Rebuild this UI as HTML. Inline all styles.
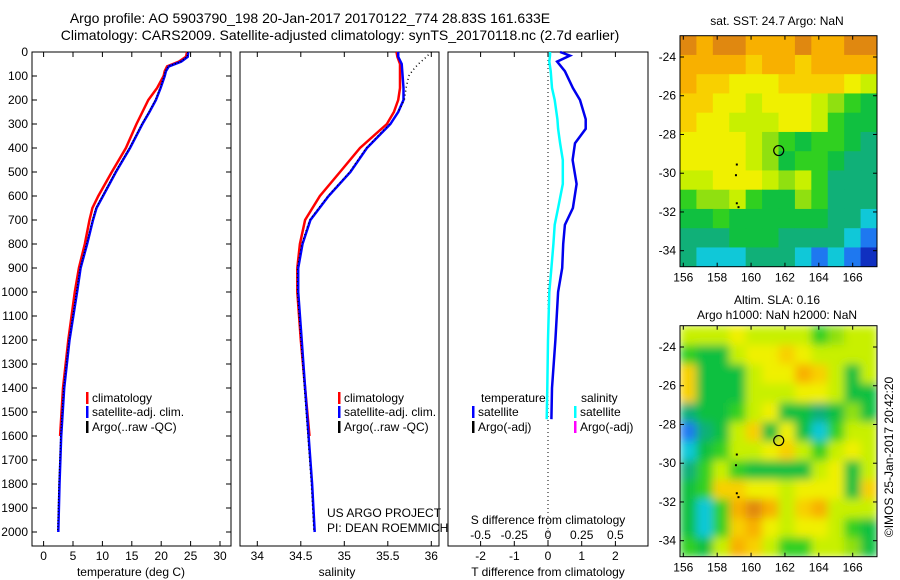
<!DOCTYPE html>
<html><head><meta charset="utf-8"><style>
html,body{margin:0;padding:0;background:#fff;}
svg{display:block;font-family:"Liberation Sans",sans-serif;}
</style></head><body>
<svg id="c" width="900" height="580" viewBox="0 0 900 580" xmlns="http://www.w3.org/2000/svg">
<defs>
<clipPath id="clipSst"><rect x="680" y="35.7" width="197" height="231"/></clipPath>
<clipPath id="clipSla"><rect x="680" y="325.7" width="197" height="231"/></clipPath>
<filter id="blur" x="0" y="0" width="1" height="1"><feGaussianBlur stdDeviation="4.5" edgeMode="duplicate"/></filter>
</defs>
<text x="310" y="23" font-size="14" text-anchor="middle">Argo profile: AO 5903790_198 20-Jan-2017 20170122_774 28.83S 161.633E</text>
<text x="340" y="40" font-size="14" text-anchor="middle">Climatology: CARS2009. Satellite-adjusted climatology: synTS_20170118.nc (2.7d earlier)</text>
<g id="g"></g>
</svg>
<script>
// ---------- data ----------
const depthT = [0,20,40,60,80,100,150,200,250,300,400,500,600,650,700,800,900,1000,1200,1400,1600,1800,2000];
const tempClim = [24.4,24.2,23.0,21.0,20.6,20.4,19.3,17.8,16.8,15.8,14.0,11.6,9.3,8.3,7.8,7.0,6.0,5.3,4.2,3.3,2.8];
const tempSat  = [24.6,24.5,23.4,21.3,20.8,20.6,19.9,19.1,18.0,16.8,14.7,12.3,10.1,9.0,8.4,7.4,6.3,5.7,4.4,3.5,3.0,2.7,2.5];
const depthS = [0,20,50,100,150,200,250,300,400,500,600,700,800,900,1000,1200,1400,1600,1800,2000];
const salClim = [35.60,35.61,35.64,35.64,35.64,35.62,35.57,35.49,35.18,34.95,34.72,34.55,34.49,34.46,34.46,34.50,34.55,34.60];
const salSat  = [35.62,35.62,35.66,35.67,35.68,35.68,35.62,35.53,35.26,35.07,34.82,34.61,34.52,34.47,34.47,34.51,34.55,34.59,34.63,34.66];
const depthArgoS = [0,25,50,75,100,150,200,250];
const salArgo = [36.0,35.93,35.85,35.79,35.74,35.71,35.69,35.62];
const depthD = [0,15,40,80,150,200,280,320,380,450,550,650,720,800,900,1000,1200,1400,1530];
const tDiff = [0.36,0.65,0.27,0.5,0.74,0.95,1.12,1.12,0.8,0.73,0.85,0.74,0.5,0.45,0.42,0.3,0.22,0.12,0.1];
const sDiff = [0.015,0.015,0.01,0.02,0.03,0.05,0.07,0.075,0.09,0.11,0.11,0.075,0.05,0.04,0.025,0.01,0.0,-0.005,-0.01];
const depthTicks = [0,100,200,300,400,500,600,700,800,900,1000,1100,1200,1300,1400,1500,1600,1700,1800,1900,2000];
const tempTicks = [0,5,10,15,20,25,30];
const salTicks = [34,34.5,35,35.5,36];
const tdTicks = [-2,-1,0,1,2];
const sdTicks = [-0.5,-0.25,0,0.25,0.5];
const lonTicks = [156,158,160,162,164,166];
const latTicks = [-24,-26,-28,-30,-32,-34];
const sstGrid = [
[11,10,11,11,10,10,10,11,10,10,11,11],
[10,10,10,10,9,10,10,9,10,10,10,10],
[10,9,9,8,8,8,9,9,9,9,8,7],
[9,9,8,8,7,8,8,8,7,6,5,4],
[9,8,8,7,7,7,8,8,7,5,4,4],
[8,8,8,8,7,6,5,4,5,5,4,3],
[8,8,8,8,7,6,4,5,5,4,3,3],
[7,7,8,8,8,7,6,7,5,3,3,3],
[5,6,6,7,5,4,4,6,5,3,3,3],
[4,4,5,4,4,4,4,4,4,3,3,2],
[3,3,3,4,4,4,3,3,3,3,2,1],
[3,2,2,2,3,3,3,2,1,2,1,0]];
const slaGrid = [
[7,7,7,8,7,7,7,7,5,6,7,7],
[5,4,4,7,8,8,9,8,7,7,7,7],
[9,4,4,4,7,8,8,10,9,7,4,7],
[9,4,4,4,7,7,7,8,8,7,4,4],
[3,4,4,5,7,8,4,4,3,4,6,4],
[1,3,4,7,9,4,8,4,2,5,7,7],
[2,4,5,7,7,8,9,7,5,7,8,7],
[3,5,7,5,4,4,4,4,7,8,4,7],
[4,5,9,9,8,8,7,8,8,8,4,9],
[4,2,5,10,11,10,7,9,10,7,7,7],
[4,2,5,9,10,8,7,8,8,7,5,4],
[5,4,7,10,9,7,5,5,7,7,6,4]];
const profileLon = 161.633, profileLat = -28.83;

// ---------- helpers ----------
const NS='http://www.w3.org/2000/svg';
const G=document.getElementById('g');
function el(t,a,p){const e=document.createElementNS(NS,t);for(const k in a)e.setAttribute(k,a[k]);(p||G).appendChild(e);return e;}
function txt(x,y,s,sz,anchor,p){const e=el('text',{x:x,y:y,'font-size':sz,'text-anchor':anchor||'start'},p);e.textContent=s;return e;}
const yD = d => 52 + d*0.24;
const xT = t => 43.6 + t*5.88;
const xS = s => 257.3 + (s-34)*87;
const xTD = v => 548 + v*33.7;
const xSD = v => 548 + v*134.8;
const xLon = l => 683.3 + (l-156)*16.94;
const yLat = (l,top) => top + 21.3 + (-24-l)*19.37;
function pts(xs,ds,fx){return xs.map((v,i)=>fx(v).toFixed(1)+','+yD(ds[i]).toFixed(1)).join(' ');}

// ---------- panels ----------
const panels=[[32,231],[240,439],[448,648]];
panels.forEach((p,i)=>{
  const r=el('rect',{x:p[0],y:52,width:p[1]-p[0],height:494,fill:'none',stroke:'#000','stroke-width':1});
  
  
});
depthTicks.forEach(d=>{
  el('line',{x1:32,x2:37,y1:yD(d),y2:yD(d),stroke:'#000'});
  el('line',{x1:226,x2:231,y1:yD(d),y2:yD(d),stroke:'#000'});
  const t=txt(28,yD(d)+4,String(d),12,'end');
  
  
});
tempTicks.forEach(v=>{
  el('line',{x1:xT(v),x2:xT(v),y1:541,y2:546,stroke:'#000'});
  el('line',{x1:xT(v),x2:xT(v),y1:52,y2:57,stroke:'#000'});
  const t=txt(xT(v),560,String(v),12,'middle');
  
  
});
salTicks.forEach(v=>{
  el('line',{x1:xS(v),x2:xS(v),y1:541,y2:546,stroke:'#000'});
  el('line',{x1:xS(v),x2:xS(v),y1:52,y2:57,stroke:'#000'});
  const t=txt(xS(v),560,String(v),12,'middle');
  
  
});
tdTicks.forEach(v=>{
  el('line',{x1:xTD(v),x2:xTD(v),y1:541,y2:546,stroke:'#000'});
  el('line',{x1:xTD(v),x2:xTD(v),y1:52,y2:57,stroke:'#000'});
  const t=txt(xTD(v),560,String(v),12,'middle');
  
  
});
sdTicks.forEach(v=>{
  const t=txt(xSD(v),539,String(v),12,'middle');
  
  
});
let t;
t=txt(131,576,'temperature (deg C)',12,'middle');
t=txt(337,576,'salinity',12,'middle');
t=txt(548,576,'T difference from climatology',12,'middle');
t=txt(548,524,'S difference from climatology',12,'middle');
t=txt(327,517,'US ARGO PROJECT',12);
t=txt(327,532,'PI: DEAN ROEMMICH',12);

// ---------- series ----------
function line(xs,ds,fx,col,name,dash,w){
  const e=el('polyline',{points:pts(xs,ds,fx),fill:'none',stroke:col,'stroke-width':w||2.5});
  if(dash)e.setAttribute('stroke-dasharray',dash);
  
  
}
line(tempClim,depthT,xT,'#f00','temp-climatology-line');
line(tempSat,depthT,xT,'#00f','temp-satellite-line');
line(tempSat.map(v=>v-0.1),depthT,xT,'#000','temp-argo-line','1 2',1.2);
line(salClim,depthS,xS,'#f00','sal-climatology-line');
line(salSat,depthS,xS,'#00f','sal-satellite-line');
line(salArgo,depthArgoS,xS,'#000','sal-argo-line','1 3',1.5);
line(salSat.slice(7).map(v=>v-0.01),depthS.slice(7),xS,'#000','sal-argo-deep-line','1 3',1.2);
let z=el('line',{x1:xTD(0),x2:xTD(0),y1:52,y2:546,stroke:'#000','stroke-dasharray':'1 3'});

line(sDiff,depthD,xSD,'#0ff','s-diff-satellite-line');
line(tDiff,depthD,xTD,'#00e','t-diff-satellite-line');

// ---------- legends ----------
function leg(x,y,col,label,name){
  const m=el('rect',{x:x,y:y-10,width:2.5,height:12,fill:col});
  
  const tt=txt(x+6,y,label,12);
  
}
[86,338].forEach((x,i)=>{
  const pf=i==0?'temp':'sal';
  leg(x,402,'#f00','climatology',pf+'-legend-climatology');
  leg(x,416,'#00f','satellite-adj. clim.',pf+'-legend-satellite');
  leg(x,431,'#000','Argo(..raw -QC)',pf+'-legend-argo');
});
t=txt(481,402,'temperature',12);
t=txt(581,402,'salinity',12);
leg(472,416,'#00f','satellite','diff-legend-t-satellite');
leg(472,431,'#000','Argo(-adj)','diff-legend-t-argo');
leg(574,416,'#0ff','satellite','diff-legend-s-satellite');
leg(574,431,'#f0f','Argo(-adj)','diff-legend-s-argo');

// ---------- maps ----------
const palette=['#1030c0','#1e78f0','#10c8d8','#10b078','#10c040','#30d020','#90e010','#c8f000','#f0f000','#f8d000','#f8b000','#e08810'];
function map(top,grid,clip,blur,name){
  const x0=680,w=197,h=231;
  const outer=el('g',{'clip-path':'url(#'+clip+')'});
  
  
  const inner=el('g',blur?{filter:'url(#blur)'}:{},outer);
  const rows=grid.length,cols=grid[0].length,cw=w/cols,ch=h/rows;
  grid.forEach((row,r)=>row.forEach((v,c)=>{
    const cell=el('rect',{x:(x0+c*cw).toFixed(2),y:(top+r*ch).toFixed(2),width:(cw+0.6).toFixed(2),height:(ch+0.6).toFixed(2),fill:palette[v]},inner);
    
    
  }));
  [[159.1,-29.5],[159.05,-30.05],[159.1,-31.5],[159.2,-31.7]].forEach(p=>{
    el('rect',{x:xLon(p[0]),y:yLat(p[1],top),width:2,height:2,fill:'#000'},outer);
  });
  const fr=el('rect',{x:x0,y:top,width:w,height:h,fill:'none',stroke:'#000'});
  
  const ci=el('circle',{cx:xLon(profileLon),cy:yLat(profileLat,top),r:5,fill:'none',stroke:'#000','stroke-width':1.2});
  
  lonTicks.forEach(l=>{
    el('line',{x1:xLon(l),x2:xLon(l),y1:top+h,y2:top+h-4,stroke:'#000'});
    el('line',{x1:xLon(l),x2:xLon(l),y1:top,y2:top+4,stroke:'#000'});
    const tt=txt(xLon(l),top+h+15,String(l),12,'middle');
    
  });
  latTicks.forEach(l=>{
    el('line',{x1:x0,x2:x0+4,y1:yLat(l,top),y2:yLat(l,top),stroke:'#000'});
    el('line',{x1:x0+w,x2:x0+w-4,y1:yLat(l,top),y2:yLat(l,top),stroke:'#000'});
    const tt=txt(676,yLat(l,top)+4,String(l),12,'end');
    
  });
}
map(35.7,sstGrid,'clipSst',false,'sst-map');
map(325.7,slaGrid,'clipSla',true,'sla-map');
t=txt(777,25,'sat. SST: 24.7 Argo: NaN',12,'middle');
t=txt(777,304,'Altim. SLA: 0.16',12,'middle');
t=txt(777,319,'Argo h1000: NaN h2000: NaN',12,'middle');
t=txt(0,0,'©IMOS 25-Jan-2017 20:42:20',12,'middle');
t.setAttribute('transform','translate(893,457) rotate(-90)');

</script>
</body></html>
